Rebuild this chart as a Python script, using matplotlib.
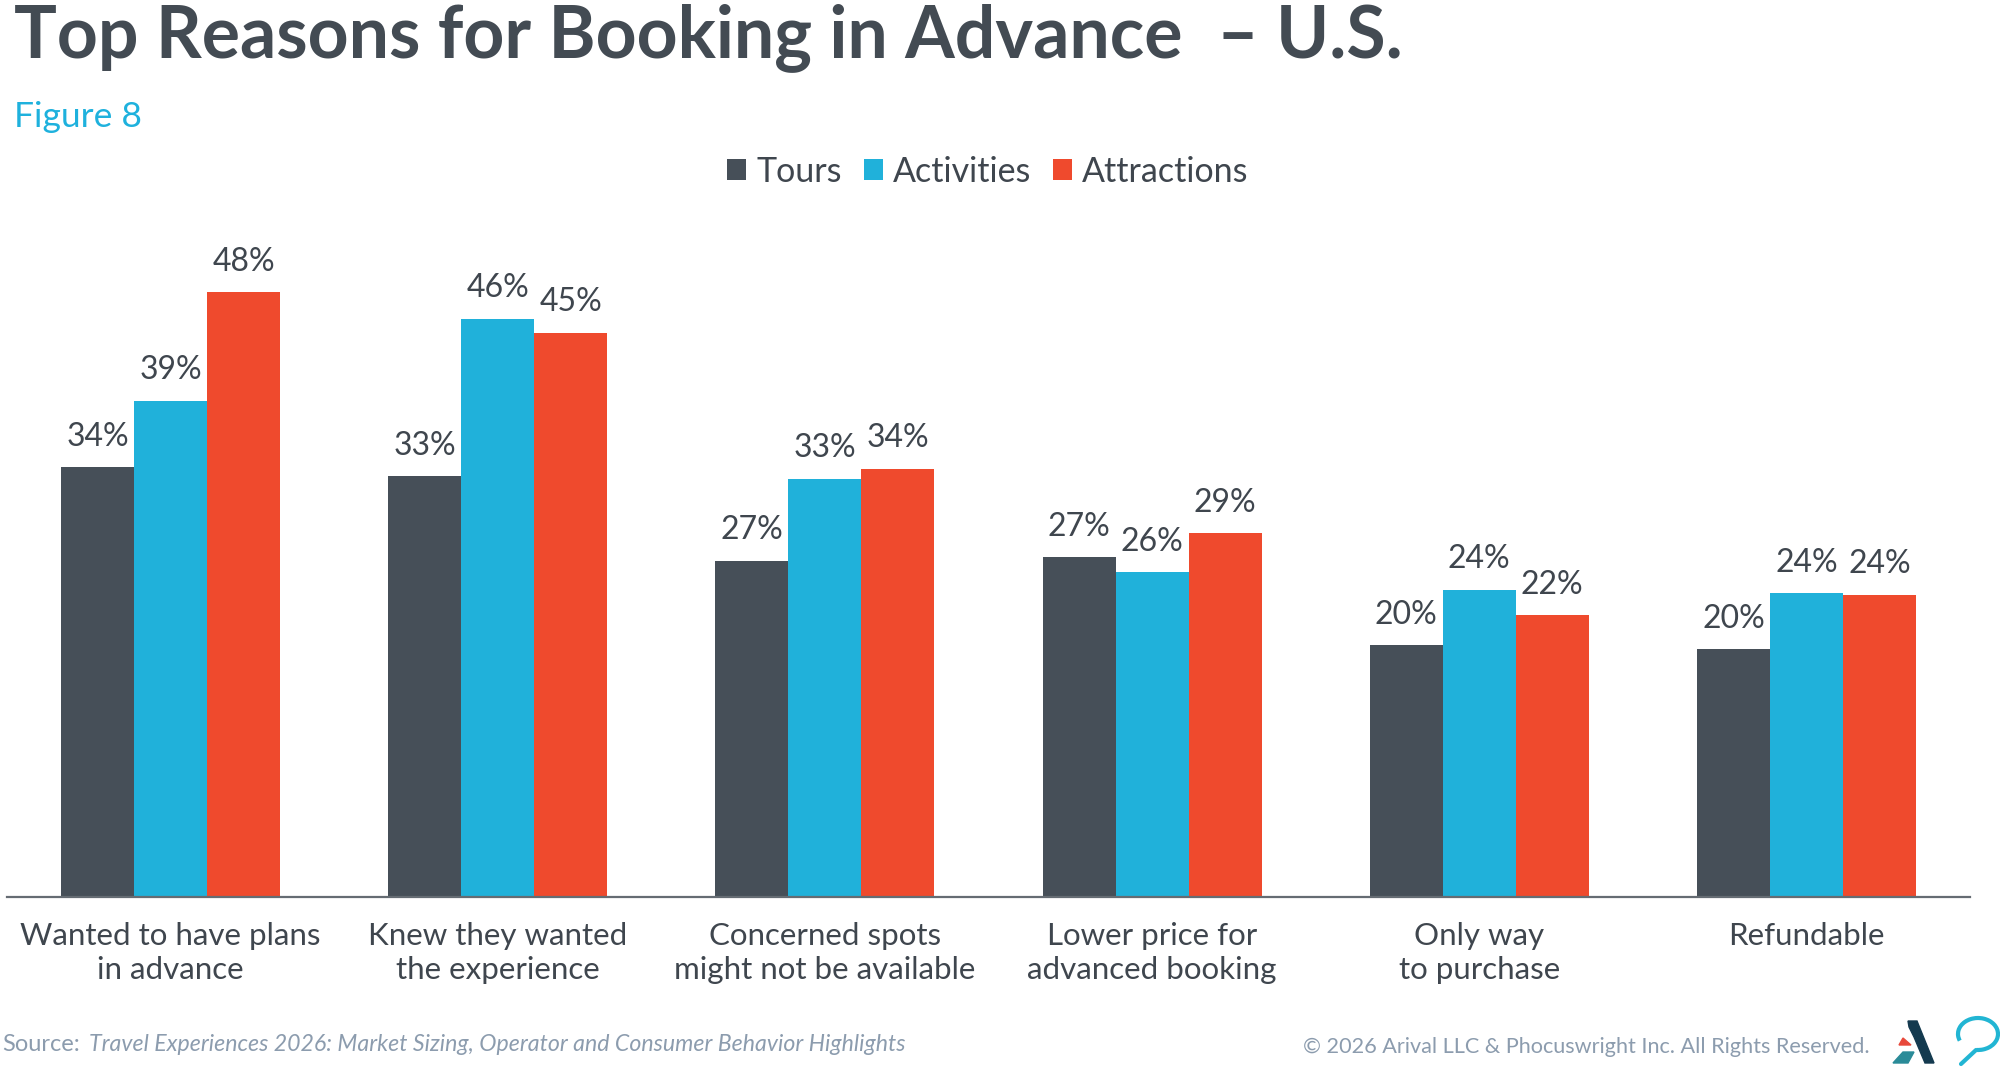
import matplotlib
matplotlib.use("Agg")
import matplotlib.pyplot as plt
import numpy as np
from matplotlib.patches import Polygon, Arc

# data
categories = ["Wanted to have plans\nin advance", "Knew they wanted\nthe experience",
              "Concerned spots\nmight not be available", "Lower price for\nadvanced booking",
              "Only way\nto purchase", "Refundable"]
series = ["Tours", "Activities", "Attractions"]
tours = [34.1, 33.4, 26.7, 27.0, 20.0, 19.7]
activities = [39.4, 45.9, 33.2, 25.8, 24.4, 24.1]
attractions = [48.0, 44.8, 34.0, 28.9, 22.4, 24.0]

colors = ["#464F58", "#20B1DA", "#EF4A2D"]
textcol = "#3F464E"

plt.rcParams['font.family'] = ['Lato', 'DejaVu Sans']

fig = plt.figure(figsize=(20, 10.67), dpi=100)
ax = fig.add_axes([0.0035, 0.1593, 0.9815, 0.5904])

x = np.arange(len(categories))
w = 0.223
for i, (vals, name) in enumerate(zip([tours, activities, attractions], series)):
    bars = ax.bar(x + (i - 1) * w, vals, width=w, color=colors[i], label=name)
    ax.bar_label(bars, labels=["%.0f%%" % v for v in vals], padding=11,
                 fontsize=23, color=textcol)

ax.set_xlim(-0.5, 5.5)
ax.set_ylim(0, 50)
ax.set_yticks([])
for s in ["top", "right", "left"]:
    ax.spines[s].set_visible(False)
ax.spines["bottom"].set_color("#656C73")
ax.spines["bottom"].set_linewidth(1.6)
ax.set_xticks(x)
ax.set_xticklabels(categories, fontsize=22.5, color=textcol, linespacing=1.28)
ax.tick_params(axis="x", length=0, pad=18)

fig.legend(loc="center", bbox_to_anchor=(0.494, 0.839), ncol=3, frameon=False,
           fontsize=24.5, handlelength=0.55, handleheight=0.55, handletextpad=0.3,
           columnspacing=0.65, labelcolor=textcol)

fig.text(0.007, 0.997, "Top Reasons for Booking in Advance  \u2013 U.S.", fontsize=51.5,
         fontweight="bold", color="#434B53", va="top", ha="left")
fig.text(0.007, 0.89, "Figure 8", fontsize=25.5, color="#1EB1DD", va="center", ha="left")

foot = "#8C9CAE"
fig.text(0.001, 0.021, "Source:", fontsize=17, color=foot, va="center", ha="left")
fig.text(0.0445, 0.021, "Travel Experiences 2026: Market Sizing, Operator and Consumer Behavior Highlights",
         fontsize=16.7, color=foot, style="italic", va="center", ha="left")
fig.text(0.935, 0.019, "\u00a9 2026 Arival LLC & Phocuswright Inc. All Rights Reserved.",
         fontsize=15.6, color=foot, va="center", ha="right")

# logos, drawn in pixel space (y axis runs downward)
lg = fig.add_axes([0, 0, 1, 1], zorder=-1)
lg.set_xlim(0, 2000)
lg.set_ylim(1067, 0)
lg.axis("off")
lg.add_patch(Polygon([(1908, 1021), (1917, 1021), (1934, 1063), (1925, 1063),
                      (1914, 1037), (1909, 1027)], color="#143A4F"))
lg.add_patch(Polygon([(1899, 1045), (1903, 1038), (1911, 1045)], color="#E8493B"))
lg.add_patch(Polygon([(1893, 1063), (1903, 1052), (1914, 1052), (1908, 1063)], color="#2A8B98"))
lg.add_patch(Arc((1978, 1034), 40, 32, angle=0, theta1=160, theta2=455,
                 color="#22B5D3", lw=3))
lg.plot([1976, 1961], [1050, 1064], color="#22B5D3", lw=3, solid_capstyle="round")

fig.savefig("out.png", dpi=100, facecolor="white")
